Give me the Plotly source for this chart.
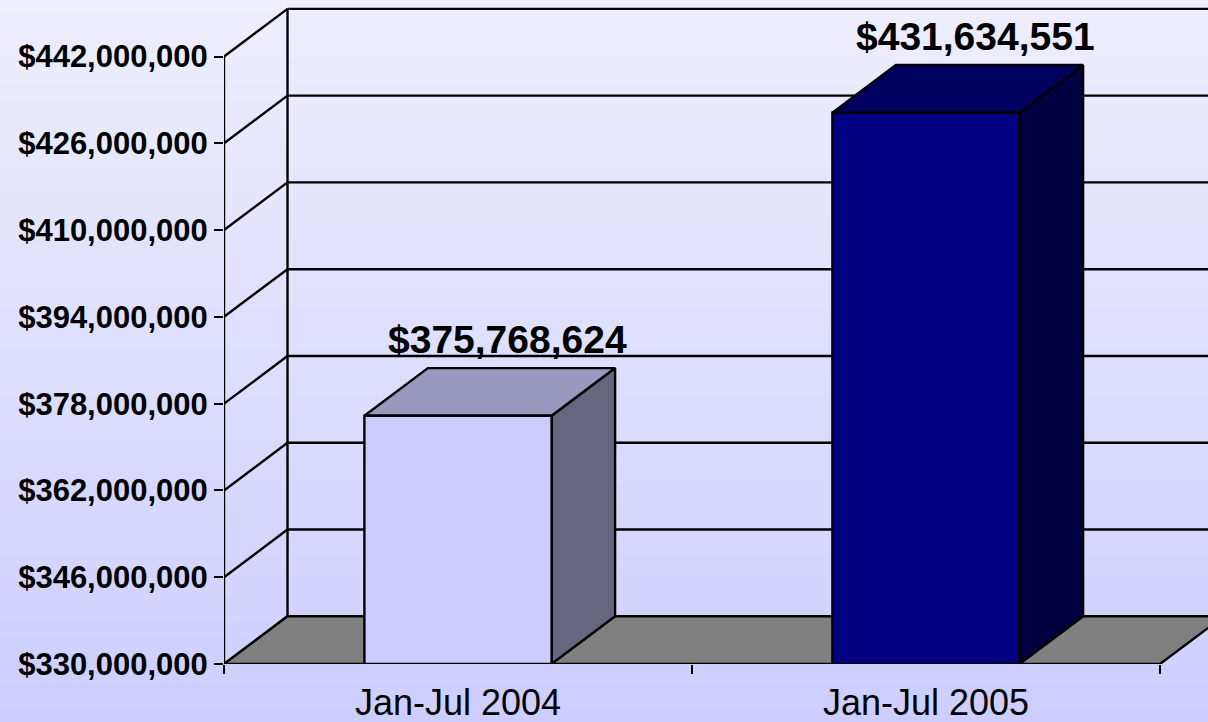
import plotly.graph_objects as go

# ---------------- data ----------------
categories = ["Jan-Jul 2004", "Jan-Jul 2005"]
values = [375768624, 431634551]
y_ticks = [330000000, 346000000, 362000000, 378000000,
           394000000, 410000000, 426000000, 442000000]

front_colors = ["#CCCCFF", "#000080"]
top_colors = ["#9999C0", "#000060"]
side_colors = ["#666680", "#000040"]

# ---------------- geometry (layout only) ----------------
W, H = 1208, 722
Y0, YMAX = y_ticks[0], y_ticks[-1]
N = len(categories)
BAR_W = 0.4          # fraction of category width
DX = 0.1357          # depth offset in category units
DY = 8.79e6          # depth offset in value units
X_RANGE = [0, 2.1026]
Y_RANGE = [Y0, 452.42e6]
FONT = "Liberation Sans, Arial, sans-serif"
LINE = dict(color="black", width=2.4)

fig = go.Figure()

# walls: back-wall gridlines, side-wall diagonals, back-wall left edge, front y-axis line
xs, ys = [], []
for v in y_ticks:
    xs += [DX, N + DX + 1, None]
    ys += [v + DY, v + DY, None]
    xs += [0, DX, None]
    ys += [v, v + DY, None]
xs += [DX, DX, None, 0, 0]
ys += [Y0 + DY, YMAX + DY, None, Y0, YMAX]
fig.add_trace(go.Scatter(x=xs, y=ys, mode="lines", line=LINE, hoverinfo="skip"))

# floor
fig.add_trace(go.Scatter(
    x=[0, N, N + DX, DX, 0], y=[Y0, Y0, Y0 + DY, Y0 + DY, Y0],
    mode="lines", fill="toself", fillcolor="#808080", line=LINE, hoverinfo="skip"))

# 3D bars
for i, v in enumerate(values):
    c = i + 0.5
    l, r = c - BAR_W / 2, c + BAR_W / 2
    # side
    fig.add_trace(go.Scatter(
        x=[r, r + DX, r + DX, r, r], y=[Y0, Y0 + DY, v + DY, v, Y0],
        mode="lines", fill="toself", fillcolor=side_colors[i], line=LINE, hoverinfo="skip"))
    # top
    fig.add_trace(go.Scatter(
        x=[l, r, r + DX, l + DX, l], y=[v, v, v + DY, v + DY, v],
        mode="lines", fill="toself", fillcolor=top_colors[i], line=LINE, hoverinfo="skip"))
    # front
    fig.add_trace(go.Scatter(
        x=[l, r, r, l, l], y=[Y0, Y0, v, v, Y0],
        mode="lines", fill="toself", fillcolor=front_colors[i], line=LINE, hoverinfo="skip"))
    fig.add_annotation(
        x=c + 0.105, y=v + DY, text=f"${v:,}", showarrow=False,
        yanchor="middle", yshift=29,
        font=dict(family=FONT, size=39, color="black", weight="bold"))

# background gradient bands (paper coordinates)
top_rgb = (238, 238, 254)
bot_rgb = (206, 206, 254)
NB = 120
shapes = []
for k in range(NB):
    t = k / (NB - 1)
    col = tuple(round(top_rgb[j] + (bot_rgb[j] - top_rgb[j]) * t) for j in range(3))
    shapes.append(dict(type="rect", xref="paper", yref="paper", layer="below",
                       x0=0, x1=1, y1=1 - k / NB, y0=1 - (k + 1) / NB - 0.002,
                       fillcolor="rgb(%d,%d,%d)" % col, line=dict(width=0)))

fig.update_layout(
    width=W, height=H, autosize=False,
    margin=dict(l=0, r=0, t=0, b=0, pad=0),
    paper_bgcolor="rgb(222,222,254)",
    plot_bgcolor="rgba(0,0,0,0)",
    showlegend=False,
    shapes=shapes,
    font=dict(family=FONT, color="black"),
    xaxis=dict(
        domain=[224 / W, 1], range=X_RANGE, automargin=False,
        tickmode="array", tickvals=[i + 0.5 for i in range(N)], ticktext=categories,
        ticks="", showgrid=False, zeroline=False, showline=False,
        ticklabelstandoff=14,
        tickfont=dict(family=FONT, size=36, color="black"),
        minor=dict(tickmode="array", tickvals=list(range(N + 1)), ticks="outside",
                   ticklen=9, tickwidth=2, tickcolor="black", showgrid=False),
    ),
    yaxis=dict(
        domain=[(H - 664) / H, 1], range=Y_RANGE, automargin=False,
        tickmode="array", tickvals=y_ticks, tickformat="$,.0f",
        ticks="outside", ticklen=9, tickwidth=2, tickcolor="black",
        showgrid=False, zeroline=False, showline=False,
        tickfont=dict(family=FONT, size=31, color="black", weight="bold"),
    ),
)

fig.write_html(
    "out.html",
    config={"responsive": False, "displayModeBar": False},
    default_width="1208px", default_height="722px",
    post_script="document.body.style.margin='0';document.body.style.overflow='hidden';",
)
